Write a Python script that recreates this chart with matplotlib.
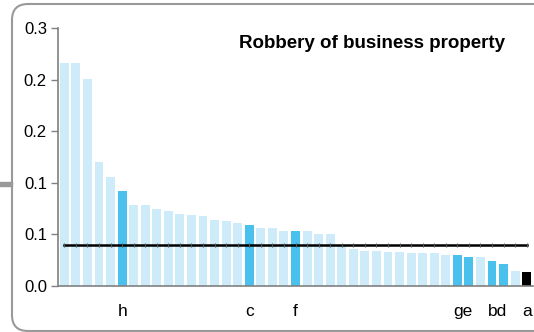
import matplotlib
matplotlib.use('Agg')
import matplotlib.pyplot as plt
from matplotlib.patches import FancyBboxPatch, Rectangle

plt.rcParams['font.family'] = ['Liberation Sans', 'DejaVu Sans']

# bar values, sorted high to low
values = [0.259, 0.259, 0.241, 0.144, 0.127, 0.111, 0.094, 0.094, 0.090, 0.087,
          0.084, 0.082, 0.081, 0.077, 0.076, 0.073, 0.0715, 0.067, 0.067, 0.0645,
          0.0635, 0.0635, 0.061, 0.061, 0.048, 0.0425, 0.041, 0.041, 0.040, 0.040,
          0.038, 0.038, 0.038, 0.0365, 0.0365, 0.0343, 0.0343, 0.0285, 0.026, 0.018,
          0.0157]
dark_bars = [5, 16, 20, 34, 35, 37, 38]
black_bars = [40]
label_pos = [5, 16, 20, 34.5, 37.5, 40]
label_text = ['h', 'c', 'f', 'ge', 'bd', 'a']
average = 0.048

y_ticks = [0.0, 0.06, 0.12, 0.18, 0.24, 0.30]
y_labels = ['0.0', '0.1', '0.1', '0.2', '0.2', '0.3']

light = '#CDEBF8'
dark = '#4AC1EC'

colors = []
for i in range(len(values)):
    if i in black_bars:
        colors.append('black')
    elif i in dark_bars:
        colors.append(dark)
    else:
        colors.append(light)

fig = plt.figure(figsize=(5.34, 3.32), dpi=100)
ax = fig.add_axes([58 / 534, 1 - 286 / 332, 475 / 534, 258 / 332])

x = list(range(len(values)))
ax.bar(x, values, width=0.77, color=colors, zorder=2)
ax.plot(x, [average] * len(x), color='black', lw=1.8, marker='|',
        markersize=2.5, markeredgecolor='#555555', markeredgewidth=0.8, zorder=3)

ax.set_xlim(-0.55, len(values) - 0.45)
ax.set_ylim(0, 0.3)
ax.set_yticks(y_ticks)
ax.set_yticklabels(y_labels, fontsize=12)
ax.set_xticks(label_pos)
ax.set_xticklabels(label_text, fontsize=12.5)
ax.tick_params(axis='x', length=0, pad=13)
ax.tick_params(axis='y', length=5, color='#808080', width=1, pad=3)

for s in ['top', 'right']:
    ax.spines[s].set_visible(False)
for s in ['left', 'bottom']:
    ax.spines[s].set_color('#808080')
    ax.spines[s].set_linewidth(1.2)

ax.text(0.662, 0.94, 'Robbery of business property', transform=ax.transAxes,
        ha='center', va='center', fontsize=13.5, fontweight='bold')

# rounded frame, running off the right edge
frame = FancyBboxPatch((12, 1), 560, 327, boxstyle='round,pad=0,rounding_size=16',
                       transform=None, fill=False, edgecolor='#999999', lw=1.5)
fig.patches.append(frame)
fig.patches.append(Rectangle((0, 146), 12, 4, transform=None, color='#999999'))

fig.savefig('out.png', dpi=100)
